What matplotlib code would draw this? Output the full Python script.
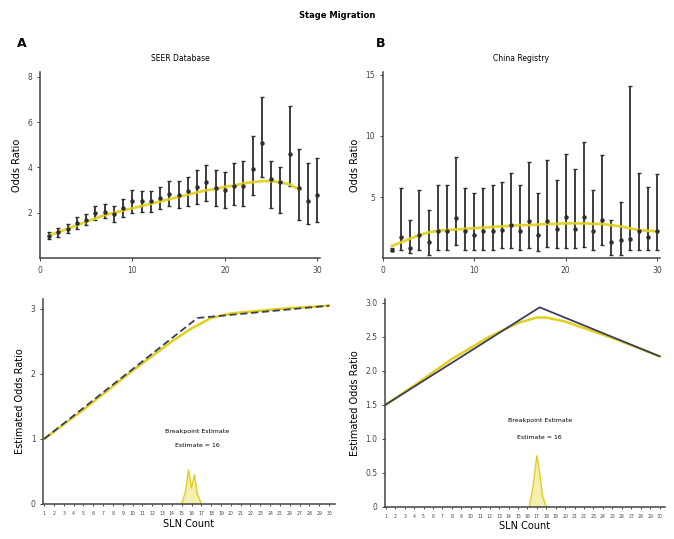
import matplotlib
matplotlib.use("Agg")
from matplotlib import pyplot as plt

# SLN count categories
sln = list(range(1, 31))

# SEER database: odds ratio with 95% CI
seer_or = [1.0, 1.15, 1.3, 1.55, 1.7, 2.0, 2.05, 1.95, 2.2, 2.5,
           2.5, 2.5, 2.65, 2.85, 2.8, 2.95, 3.15, 3.35, 3.1, 3.0,
           3.2, 3.2, 3.95, 5.1, 3.5, 3.35, 4.6, 3.1, 2.5, 2.8]
seer_lo = [0.85, 0.95, 1.1, 1.3, 1.45, 1.7, 1.75, 1.6, 1.8, 2.0,
           2.05, 2.05, 2.15, 2.3, 2.2, 2.3, 2.4, 2.5, 2.3, 2.2,
           2.35, 2.3, 2.8, 3.6, 2.2, 2.0, 3.2, 1.7, 1.5, 1.6]
seer_hi = [1.15, 1.35, 1.5, 1.8, 1.95, 2.3, 2.4, 2.3, 2.6, 3.0,
           2.95, 2.95, 3.15, 3.4, 3.4, 3.6, 3.9, 4.1, 3.9, 3.8,
           4.2, 4.3, 5.4, 7.1, 4.3, 4.0, 6.7, 4.8, 4.2, 4.4]
seer_smooth_x = list(range(1, 29))
seer_smooth = [1.0, 1.15, 1.3, 1.45, 1.6, 1.75, 1.9, 2.0, 2.1, 2.2,
               2.3, 2.4, 2.5, 2.6, 2.7, 2.8, 2.9, 3.0, 3.05, 3.15,
               3.2, 3.3, 3.35, 3.4, 3.4, 3.35, 3.25, 3.05]

# China registry: odds ratio with 95% CI
china_or = [0.7, 1.75, 0.8, 1.9, 1.35, 2.2, 2.2, 3.25, 2.2, 1.9,
            2.2, 2.2, 2.3, 2.7, 2.2, 3.0, 1.9, 3.0, 2.4, 3.4,
            2.4, 3.4, 2.2, 3.1, 1.35, 1.5, 1.6, 2.2, 1.75, 2.2]
china_lo = [0.55, 0.7, 0.4, 0.7, 0.3, 0.7, 0.7, 1.1, 0.7, 0.7,
            0.7, 0.7, 0.8, 0.8, 0.7, 0.8, 0.55, 0.95, 0.8, 0.8,
            0.8, 0.95, 0.7, 1.1, 0.3, 0.3, 0.7, 0.7, 0.7, 0.7]
china_hi = [0.85, 5.7, 3.1, 5.6, 3.9, 6.0, 6.0, 8.3, 5.7, 5.3,
            5.7, 6.0, 6.2, 7.0, 6.0, 7.9, 5.3, 8.0, 6.4, 8.5,
            7.3, 9.5, 5.6, 8.4, 3.1, 4.6, 14.1, 7.0, 5.8, 6.9]
china_smooth = [1.0, 1.3, 1.6, 1.9, 2.1, 2.25, 2.3, 2.35, 2.4, 2.45,
                2.5, 2.55, 2.6, 2.65, 2.7, 2.7, 2.75, 2.8, 2.8, 2.85,
                2.85, 2.85, 2.8, 2.8, 2.7, 2.6, 2.45, 2.3, 2.25, 2.2]

# breakpoint fits (knots) and smoothed curves
seer_knot_x = [1, 16.6, 30]
seer_knot_y = [1.0, 2.86, 3.05]
seer_loess_x = [1, 5, 10, 14, 16, 17, 18, 20, 25, 30]
seer_loess_y = [1.0, 1.45, 2.05, 2.5, 2.7, 2.78, 2.86, 2.93, 3.0, 3.05]
china_knot_x = [1, 17.3, 30]
china_knot_y = [1.5, 2.93, 2.21]
china_loess_x = [1, 4, 8, 12, 15, 17, 18, 20, 25, 30]
china_loess_y = [1.5, 1.78, 2.17, 2.5, 2.7, 2.78, 2.78, 2.72, 2.48, 2.21]

# bootstrap breakpoint density
seer_dens_x = [15.0, 15.4, 15.7, 16.0, 16.3, 16.6, 17.0]
seer_dens_y = [0, 0.2, 0.52, 0.25, 0.45, 0.15, 0]
china_dens_x = [16.2, 16.6, 17.0, 17.3, 17.6, 18.0]
china_dens_y = [0, 0.3, 0.75, 0.5, 0.15, 0]

yellow = "#e2cf1c"
dark = "#2e2e2e"
navy = "#3b3f5c"

fig = plt.figure(figsize=(6.74, 5.39), dpi=100)
fig.text(0.5, 0.966, "Stage Migration", ha="center", fontsize=6, fontweight="bold")
fig.text(0.025, 0.913, "A", fontsize=9, fontweight="bold")
fig.text(0.558, 0.913, "B", fontsize=9, fontweight="bold")


def style(ax):
    ax.spines["top"].set_visible(False)
    ax.spines["right"].set_visible(False)
    ax.spines["left"].set_color("#444444")
    ax.spines["bottom"].set_color("#444444")
    ax.spines["left"].set_linewidth(1.1)
    ax.spines["bottom"].set_linewidth(1.1)
    ax.tick_params(labelsize=5.5, length=2, width=0.7, colors="#444444")


# top panels
ax1 = fig.add_axes([0.059, 0.521, 0.416, 0.345])
ax1.errorbar(sln, seer_or,
             yerr=[[o - l for o, l in zip(seer_or, seer_lo)],
                   [h - o for o, h in zip(seer_or, seer_hi)]],
             fmt="o", ms=2.2, color=dark, ecolor=dark, elinewidth=1.3, capsize=1.3)
ax1.plot(seer_smooth_x, seer_smooth, color=yellow, lw=2, alpha=0.9)
ax1.set_xlim(0, 30.3)
ax1.set_ylim(0, 8.2)
ax1.set_xticks([0, 10, 20, 30])
ax1.set_yticks([2, 4, 6, 8])
ax1.set_ylabel("Odds Ratio", fontsize=7)
ax1.set_title("SEER Database", fontsize=5.5, pad=8)
style(ax1)

ax2 = fig.add_axes([0.568, 0.521, 0.411, 0.345])
ax2.errorbar(sln, china_or,
             yerr=[[o - l for o, l in zip(china_or, china_lo)],
                   [h - o for o, h in zip(china_or, china_hi)]],
             fmt="o", ms=2.2, color=dark, ecolor=dark, elinewidth=1.3, capsize=1.3)
ax2.plot(sln, china_smooth, color=yellow, lw=2, alpha=0.9)
ax2.set_xlim(0, 30.3)
ax2.set_ylim(0, 15.2)
ax2.set_xticks([0, 10, 20, 30])
ax2.set_yticks([5, 10, 15])
ax2.set_ylabel("Odds Ratio", fontsize=7)
ax2.set_title("China Registry", fontsize=5.5, pad=8)
style(ax2)

# bottom panels
ax3 = fig.add_axes([0.064, 0.065, 0.433, 0.38])
ax3.plot(seer_loess_x, seer_loess_y, color=yellow, lw=1.8)
ax3.plot(seer_knot_x, seer_knot_y, color=navy, lw=1.3, ls=(0, (4, 2)))
ax3.fill_between(seer_dens_x, seer_dens_y, color=yellow, alpha=0.35, lw=0)
ax3.plot(seer_dens_x, seer_dens_y, color=yellow, lw=1)
ax3.text(16.6, 1.09, "Breakpoint Estimate", ha="center", fontsize=4.5)
ax3.text(16.6, 0.87, "Estimate = 16", ha="center", fontsize=4.5)
ax3.set_xlim(0.9, 30.6)
ax3.set_ylim(0, 3.15)
ax3.set_xticks(sln)
ax3.set_xticklabels([str(s) for s in sln])
ax3.set_yticks([0, 1, 2, 3])
ax3.set_ylabel("Estimated Odds Ratio", fontsize=7)
ax3.set_xlabel("SLN Count", fontsize=7, labelpad=2)
style(ax3)
ax3.tick_params(axis="x", labelsize=3.3, length=1.5)

ax4 = fig.add_axes([0.571, 0.06, 0.416, 0.385])
ax4.plot(china_loess_x, china_loess_y, color=yellow, lw=1.8)
ax4.plot(china_knot_x, china_knot_y, color=navy, lw=1.3)
ax4.fill_between(china_dens_x, china_dens_y, color=yellow, alpha=0.35, lw=0)
ax4.plot(china_dens_x, china_dens_y, color=yellow, lw=1)
ax4.text(17.3, 1.24, "Breakpoint Estimate", ha="center", fontsize=4.5)
ax4.text(17.3, 1.0, "Estimate = 16", ha="center", fontsize=4.5)
ax4.set_xlim(0.9, 30.6)
ax4.set_ylim(0, 3.05)
ax4.set_xticks(sln)
ax4.set_xticklabels([str(s) for s in sln])
ax4.set_yticks([0, 0.5, 1.0, 1.5, 2.0, 2.5, 3.0])
ax4.set_yticklabels(["0", "0.5", "1.0", "1.5", "2.0", "2.5", "3.0"])
ax4.set_ylabel("Estimated Odds Ratio", fontsize=7)
ax4.set_xlabel("SLN Count", fontsize=7, labelpad=2)
style(ax4)
ax4.tick_params(axis="x", labelsize=3.3, length=1.5)

fig.savefig("out.png", dpi=100)
